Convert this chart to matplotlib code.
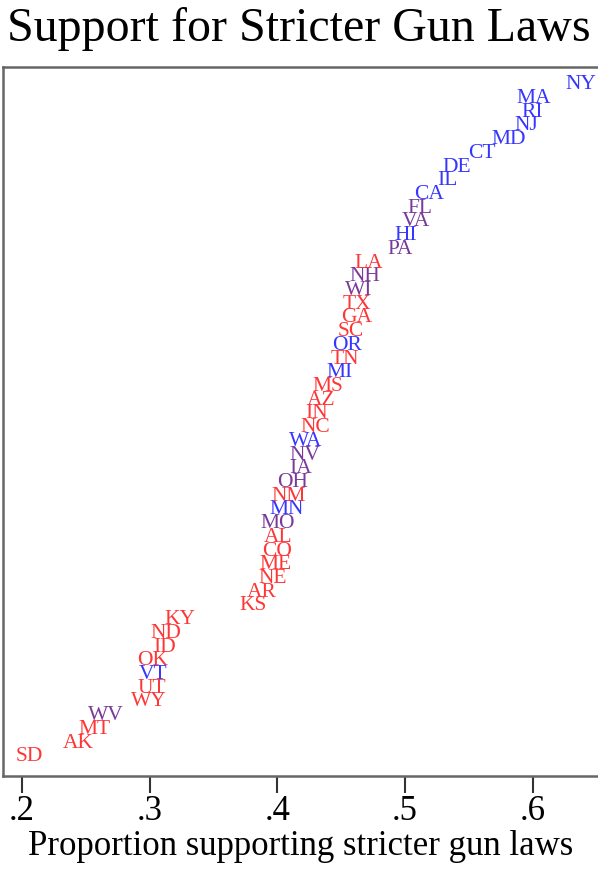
import matplotlib
matplotlib.use("Agg")
import matplotlib.pyplot as plt

plt.rcParams['font.family'] = ['Liberation Serif', 'DejaVu Serif']

# states, ordered from lowest to highest support
states = ["SD", "AK", "MT", "WV", "WY", "UT", "VT", "OK", "ID", "ND",
          "KY", "KS", "AR", "NE", "ME", "CO", "AL", "MO", "MN", "NM",
          "OH", "IA", "NV", "WA", "NC", "IN", "AZ", "MS", "MI", "TN",
          "OR", "SC", "GA", "TX", "WI", "NH", "LA", "PA", "HI", "VA",
          "FL", "CA", "IL", "DE", "CT", "MD", "NJ", "RI", "MA", "NY"]
support = [0.206, 0.244, 0.257, 0.266, 0.2995, 0.3018, 0.3025, 0.3026, 0.3113, 0.3128,
           0.3238, 0.381, 0.388, 0.3966, 0.3985, 0.3995, 0.4003, 0.4005, 0.4075, 0.4091,
           0.4122, 0.4185, 0.4215, 0.4225, 0.4295, 0.4303, 0.4343, 0.4397, 0.4491, 0.4531,
           0.4546, 0.4578, 0.4625, 0.4626, 0.464, 0.4687, 0.4719, 0.4962, 0.5009, 0.5087,
           0.5118, 0.5189, 0.5335, 0.5408, 0.5604, 0.5813, 0.5955, 0.5994, 0.601, 0.6378]
# r = red, b = blue, p = purple
lean = ["r", "r", "r", "p", "r", "r", "b", "r", "r", "r",
        "r", "r", "r", "r", "r", "r", "r", "p", "b", "r",
        "p", "p", "p", "b", "r", "r", "r", "r", "b", "r",
        "b", "r", "r", "r", "p", "p", "r", "p", "b", "p",
        "p", "b", "b", "b", "b", "b", "b", "b", "b", "b"]

colmap = {"r": "#ff3636", "b": "#3636ff", "p": "#7a3a9a"}

fig = plt.figure(figsize=(5.98, 8.74), dpi=100)
ax = fig.add_axes([3 / 598, (874 - 776) / 874, 1 - 3 / 598, (776 - 67) / 874])

for i, (st, v, c) in enumerate(zip(states, support, lean)):
    ax.text(v, i + 1, st, ha='center', va='center', fontsize=15.5,
            color=colmap[c])

ax.set_xlim(0.185, 0.6513)
ax.set_ylim(-0.4, 51.3)
ax.set_yticks([])
ax.set_xticks([0.2, 0.3, 0.4, 0.5, 0.6])
ax.set_xticklabels([".2", ".3", ".4", ".5", ".6"], fontsize=25)
ax.tick_params(axis='x', direction='out', length=12, width=1.5, pad=2, color='#333333')
for s in ['left', 'top', 'bottom']:
    ax.spines[s].set_color('#666666')
    ax.spines[s].set_linewidth(1.8)
ax.spines['right'].set_visible(False)

ax.set_xlabel("Proportion supporting stricter gun laws", fontsize=25, labelpad=1)
fig.text(0.5, 1 - 41 / 874, "Support for Stricter Gun Laws", ha='center',
         va='baseline', fontsize=34.5)

fig.savefig("out.png", dpi=100)
